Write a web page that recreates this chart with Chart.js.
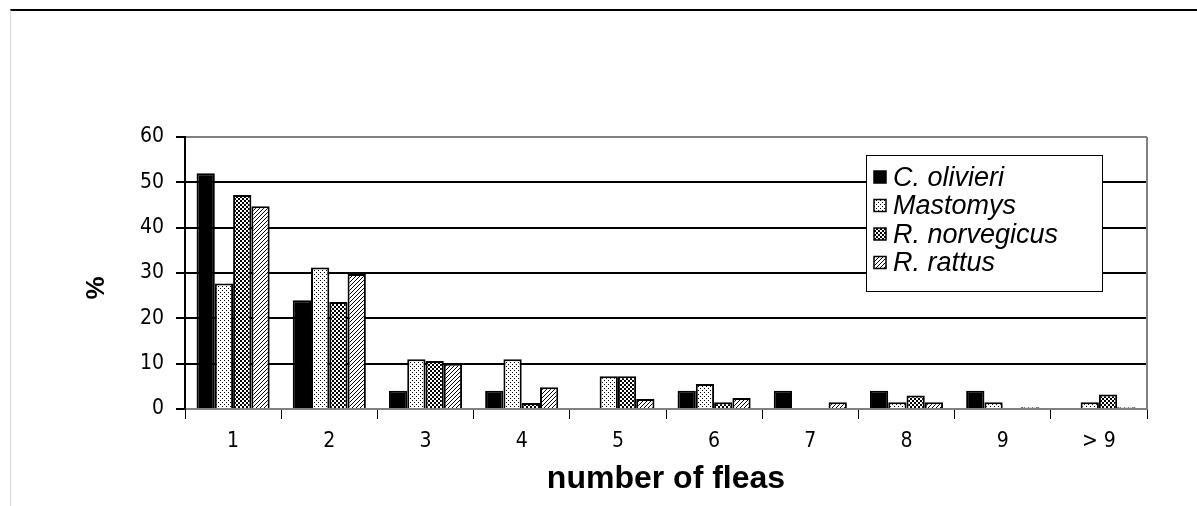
<!DOCTYPE html>
<html>
<head>
<meta charset="utf-8">
<script src="https://cdn.jsdelivr.net/npm/chart.js@4.4.1/dist/chart.umd.min.js"></script>
<style>
  html, body { margin: 0; padding: 0; background: #fff; }
  #frame { position: absolute; left: 10px; top: 9px; width: 1187px; height: 497px;
           border-top: 2px solid #000; border-left: 1px solid #d8d8d8; }
  #wrap  { position: absolute; left: 0; top: 0; width: 1197px; height: 506px; }
</style>
</head>
<body>
<div id="frame"></div>
<div id="wrap"><canvas id="fleas"></canvas></div>
<script>
/* ── DATA ─────────────────────────────────────────────── */
const categories  = ['1', '2', '3', '4', '5', '6', '7', '8', '9', '> 9'];
const cOlivieri   = [52, 24, 4, 4, 0, 4, 4, 4, 4, 0];
const mastomys    = [27.7, 31.2, 11, 11, 7.2, 5.5, 0, 1.5, 1.5, 1.5];
const rNorvegicus = [47.2, 23.6, 10.6, 1.3, 7.2, 1.5, 0, 3.0, 0, 3.2];
const rRattus     = [44.7, 29.8, 10, 4.8, 2.2, 2.4, 1.5, 1.5, 0.4, 0.4];
const seriesNames = ['C. olivieri', 'Mastomys', 'R. norvegicus', 'R. rattus'];
const yTicks      = [0, 10, 20, 30, 40, 50, 60];

const AXIS_FONT = "'DejaVu Sans Condensed', 'Liberation Sans', Arial, sans-serif";
const TEXT_FONT = "'Liberation Sans', Arial, sans-serif";

/* ── FILL PATTERNS ────────────────────────────────────── */
function makePattern(size, pixels) {
  const c = document.createElement('canvas');
  c.width = size; c.height = size;
  const g = c.getContext('2d');
  g.fillStyle = '#fff';
  g.fillRect(0, 0, size, size);
  g.fillStyle = '#000';
  pixels.forEach(([x, y, w, h]) => g.fillRect(x, y, w || 1, h || 1));
  return g.createPattern(c, 'repeat');
}

const dots    = makePattern(4, [[0, 0], [2, 2]]);
const checker = makePattern(4, [[0, 0, 2, 2], [2, 2, 2, 2]]);
const hatch   = makePattern(4, [[3, 0], [2, 1], [1, 2], [0, 3]]);
const fills   = ['#000', dots, checker, hatch];

/* ── PLUGINS ──────────────────────────────────────────── */
const plotFrame = {
  id: 'plotFrame',
  afterDatasetsDraw(chart) {
    const { ctx, chartArea: a } = chart;
    ctx.save();
    ctx.strokeStyle = '#808080';
    ctx.lineWidth = 2;
    ctx.beginPath();
    ctx.moveTo(a.right, a.top);
    ctx.lineTo(a.right, a.bottom);
    ctx.stroke();
    ctx.restore();
  }
};

const yTitle = {
  id: 'yTitle',
  afterDraw(chart) {
    const { ctx } = chart;
    ctx.save();
    ctx.translate(97, 288);
    ctx.rotate(-Math.PI / 2);
    ctx.font = 'bold 26px ' + TEXT_FONT;
    ctx.fillStyle = '#000';
    ctx.textAlign = 'center';
    ctx.textBaseline = 'middle';
    ctx.fillText('%', 0, 0);
    ctx.restore();
  }
};

const boxLegend = {
  id: 'boxLegend',
  afterDraw(chart) {
    const { ctx } = chart;
    const x = 866, y = 155, w = 236, h = 136;
    ctx.save();
    ctx.fillStyle = '#fff';
    ctx.fillRect(x, y, w, h);
    ctx.strokeStyle = '#000';
    ctx.lineWidth = 1;
    ctx.strokeRect(x + 0.5, y + 0.5, w, h);
    ctx.font = 'italic 27px ' + TEXT_FONT;
    ctx.textBaseline = 'middle';
    chart.data.datasets.forEach((ds, i) => {
      const cy = y + 22 + i * 28.5;
      ctx.fillStyle = ds.backgroundColor;
      ctx.fillRect(x + 8, cy - 6, 12, 12);
      ctx.strokeStyle = '#000';
      ctx.lineWidth = 1.5;
      ctx.strokeRect(x + 8, cy - 6, 12, 12);
      ctx.fillStyle = '#000';
      ctx.fillText(ds.label, x + 27, cy + 1);
    });
    ctx.restore();
  }
};

/* ── CHART ────────────────────────────────────────────── */
const seriesValues = [cOlivieri, mastomys, rNorvegicus, rRattus];

new Chart(document.getElementById('fleas'), {
  type: 'bar',
  data: {
    labels: categories,
    datasets: seriesValues.map((vals, i) => ({
      label          : seriesNames[i],
      data           : vals,
      backgroundColor: fills[i],
      borderColor    : '#000',
      borderWidth    : 2,
      categoryPercentage: 0.76,
      barPercentage  : 1.0,
    }))
  },
  options: {
    responsive: true,
    maintainAspectRatio: false,
    animation: false,
    layout: { padding: { left: 80, top: 137, right: 50, bottom: 0 } },
    scales: {
      x: {
        afterFit: s => { s.height = 97; },
        grid  : { drawOnChartArea: false, tickLength: 10, tickColor: '#000', lineWidth: 1 },
        border: { color: '#808080', width: 2 },
        ticks : { color: '#000', padding: 10, font: { family: AXIS_FONT, size: 21 } },
        title : { display: true, text: 'number of fleas', color: '#000', padding: { bottom: 8 },
                  font: { family: TEXT_FONT, size: 32, weight: 'bold' } }
      },
      y: {
        min: yTicks[0],
        max: yTicks[yTicks.length - 1],
        afterFit: s => { s.width = 105; },
        afterBuildTicks: s => { s.ticks = yTicks.map(v => ({ value: v })); },
        grid  : {
          color: c => (c.tick && (c.tick.value === 0 || c.tick.value === 60)) ? '#808080' : '#000',
          lineWidth: 2, tickLength: 9, tickColor: '#000'
        },
        border: { color: '#000', width: 2 },
        ticks : { color: '#000', padding: 12, font: { family: AXIS_FONT, size: 21 } }
      }
    },
    plugins: {
      legend : { display: false },
      tooltip: { enabled: false }
    }
  },
  plugins: [plotFrame, yTitle, boxLegend]
});
</script>
</body>
</html>
